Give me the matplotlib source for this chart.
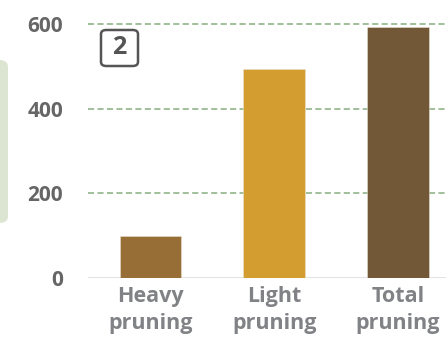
import matplotlib
matplotlib.use("Agg")
import matplotlib.pyplot as plt
from matplotlib.patches import FancyBboxPatch

categories = ["Heavy\npruning", "Light\npruning", "Total\npruning"]
values = [100, 495, 593]
bar_colors = ["#976f36", "#d39d30", "#735838"]
yticks = [0, 200, 400, 600]
badge_text = "2"

plt.rcParams['font.family'] = ['Open Sans', 'DejaVu Sans']

W, H = 446, 337
fig = plt.figure(figsize=(W / 100, H / 100), dpi=100)
fig.patch.set_facecolor('white')

# partial side panel on the left edge
fig.patches.append(FancyBboxPatch((-10 / W, 1 - 223 / H), 18 / W, 163 / H,
                                  boxstyle="round,pad=0,rounding_size=0.02",
                                  transform=fig.transFigure, facecolor='#dce5d1',
                                  edgecolor='none', zorder=0))

ax = fig.add_axes([88 / W, (H - 278) / H, (W - 88) / W, 278 / H])
ax.set_facecolor('none')

x = range(len(categories))
ax.bar(x, values, width=0.5, color=bar_colors, edgecolor='#e8e0d0',
       linewidth=0.4, zorder=3)

ax.set_xlim(-0.505, 2.388)
ax.set_ylim(0, 657)

for t in yticks[1:]:
    ax.axhline(t, color='#88ae80', linestyle=(0, (4, 2.2)), linewidth=1.1, zorder=1)
ax.axhline(0, color='#dddddd', linewidth=1.2, zorder=2)

ax.set_yticks(yticks)
ax.set_yticklabels([str(t) for t in yticks], fontsize=15, fontweight='bold',
                   color='#666666')
ax.set_xticks(list(x))
ax.set_xticklabels(categories, fontsize=15.5, fontweight='bold', color='#808285',
                   linespacing=1.35)
ax.tick_params(axis='y', length=0, pad=18)
ax.tick_params(axis='x', length=0, pad=6)
for s in ax.spines.values():
    s.set_visible(False)

# numbered badge
fig.patches.append(FancyBboxPatch((101 / W, 1 - 66 / H), 37 / W, 36 / H,
                                  boxstyle="round,pad=0,rounding_size=0.012",
                                  transform=fig.transFigure, facecolor='white',
                                  edgecolor='#555555', linewidth=1.8, zorder=5))
fig.text(119.5 / W, 1 - 48 / H, badge_text, ha='center', va='center',
         fontsize=18, fontweight='bold', color='#555555', zorder=6)

fig.savefig("out.png", dpi=100)
